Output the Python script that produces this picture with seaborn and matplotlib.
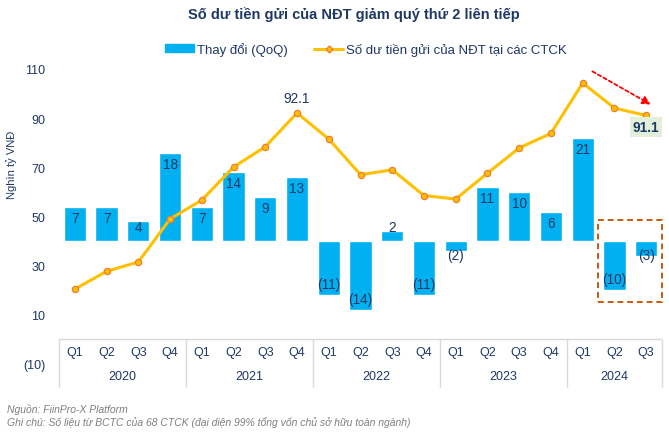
import matplotlib
matplotlib.use("Agg")
import matplotlib.pyplot as plt
import seaborn as sns
import numpy as np
import pandas as pd
from matplotlib.patches import Patch, Rectangle, FancyArrowPatch
from matplotlib.lines import Line2D

# ---------------- data ----------------
quarters = ["Q1", "Q2", "Q3", "Q4"] * 4 + ["Q1", "Q2", "Q3"]
years = ["2020", "2021", "2022", "2023", "2024"]
year_sizes = [4, 4, 4, 4, 3]
balance = [20.5, 27.7, 31.5, 49.0, 56.7, 70.1, 78.4, 92.1, 81.5, 67.0,
           69.0, 58.5, 57.1, 67.6, 77.9, 83.8, 104.3, 94.1, 91.1]
change_qoq = [7, 7, 4, 18, 7, 14, 9, 13, -11, -14, 2, -11, -2, 11, 10, 6, 21, -10, -3]
yticks = [-10, 10, 30, 50, 70, 90, 110]
labeled_points = {7: "92.1", 18: "91.1"}

NAVY = "#1F3864"
BAR = "#00B0F0"
LINE = "#FFC000"

sns.set_theme(style="white")
plt.rcParams["font.family"] = ["Liberation Sans", "DejaVu Sans"]

fig = plt.figure(figsize=(6.69, 4.35), dpi=100)
ax = fig.add_axes([59 / 669, 1 - 365 / 435, 603 / 669, 295 / 435])
ax2 = ax.twinx()

n = len(quarters)
x = np.arange(n)
df = pd.DataFrame({"x": x, "change": change_qoq, "balance": balance})

# bars on secondary axis (baseline aligned at 40 on primary)
sns.barplot(data=df, x="x", y="change", ax=ax2, color=BAR, width=0.7,
            native_scale=True, saturation=1)
ax2.set_ylim(-25, 35)

# line on primary axis
sns.lineplot(data=df, x="x", y="balance", ax=ax, color=LINE, lw=2.2,
             marker="o", markersize=4.5, markerfacecolor="#FFC000",
             markeredgecolor="#ED7D31", markeredgewidth=0.9)
ax.set_ylim(-10, 110)
ax.set_xlim(-0.5, n - 0.5)
ax2.set_xlim(-0.5, n - 0.5)

ax.set_zorder(2)
ax2.set_zorder(1)
ax.patch.set_visible(False)

for a in (ax, ax2):
    for s in a.spines.values():
        s.set_visible(False)
    a.set_xlabel("")
    a.set_ylabel("")
    a.set_xticks([])
ax2.set_yticks([])

def fmt(v):
    return f"({abs(v):g})" if v < 0 else f"{v:g}"

ax.set_yticks(yticks)
ax.set_yticklabels([fmt(v) for v in yticks], color=NAVY, fontsize=9)
ax.tick_params(axis="y", length=0, pad=10)

# bar labels
for i, v in enumerate(change_qoq):
    d = max(abs(v) - 2.24, 2.85)
    ax2.text(i, np.sign(v) * d, fmt(v), ha="center", va="center",
             fontsize=9.8, color=NAVY)

# line labels
ax.annotate(labeled_points[7], (7, balance[7]), xytext=(0, 6),
            textcoords="offset points", ha="center", va="bottom",
            fontsize=9.8, color=NAVY)
ax.annotate(labeled_points[18], (18, balance[18]), xytext=(0, -8),
            textcoords="offset points", ha="center", va="center",
            fontsize=9.8, color=NAVY, fontweight="bold",
            bbox=dict(boxstyle="square,pad=0.22", fc="#E2EFDA", ec="none"))

# category axis
ax.axhline(0, color="#D9D9D9", lw=1, zorder=0)
for i, q in enumerate(quarters):
    ax.text(i, -5.3, q, ha="center", va="center", fontsize=9, color=NAVY)
bounds = np.concatenate([[0], np.cumsum(year_sizes)]) - 0.5
ax.vlines(bounds, -19.5, 0, color="#D9D9D9", lw=1, clip_on=False)
for k, yr in enumerate(years):
    ax.text((bounds[k] + bounds[k + 1]) / 2, -15.0, yr, ha="center",
            va="center", fontsize=9, color=NAVY, clip_on=False)

# highlight box and arrow
ax.add_patch(Rectangle((16.48, 15.2), 18.5 - 16.48, 48.6 - 15.2, fill=False,
                       ec="#C55A11", lw=1.4, ls=(0, (3, 2)), clip_on=False))
ax.add_patch(FancyArrowPatch((16.23, 109.6), (18.22, 95.0), arrowstyle="-|>",
                             mutation_scale=12, color="#FF0000", lw=1.3,
                             ls=(0, (2, 1.5)), clip_on=False))

# titles and legend
fig.text(354 / 669, 1 - 15 / 435, "Số dư tiền gửi của NĐT giảm quý thứ 2 liên tiếp",
         ha="center", va="center", fontsize=10.5, fontweight="bold", color=NAVY)
handles = [Patch(color=BAR, label="Thay đổi (QoQ)"),
           Line2D([], [], color=LINE, lw=2.2, marker="D", markersize=3.5,
                  markerfacecolor="#FFC000", markeredgecolor="#ED7D31",
                  label="Số dư tiền gửi của NĐT tại các CTCK")]
fig.legend(handles=handles, loc="center", bbox_to_anchor=(366 / 669, 1 - 50 / 435),
           ncol=2, frameon=False, fontsize=9.5, handlelength=2.2, handleheight=0.6,
           columnspacing=2.0, handletextpad=0.2, labelcolor="#1F3864")

fig.text(12 / 669, 1 - 165 / 435, "Nghìn tỷ VNĐ", rotation=90, ha="center",
         va="center", fontsize=8, color=NAVY)
fig.text(7 / 669, 1 - 410 / 435, "Nguồn: FiinPro-X Platform", ha="left",
         va="center", fontsize=7.5, style="italic", color="#7F7F7F")
fig.text(7 / 669, 1 - 423 / 435,
         "Ghi chú: Số liệu từ BCTC của 68 CTCK (đại diện 99% tổng vốn chủ sở hữu toàn ngành)",
         ha="left", va="center", fontsize=7.5, style="italic", color="#7F7F7F")

fig.savefig("out.png", dpi=100)
